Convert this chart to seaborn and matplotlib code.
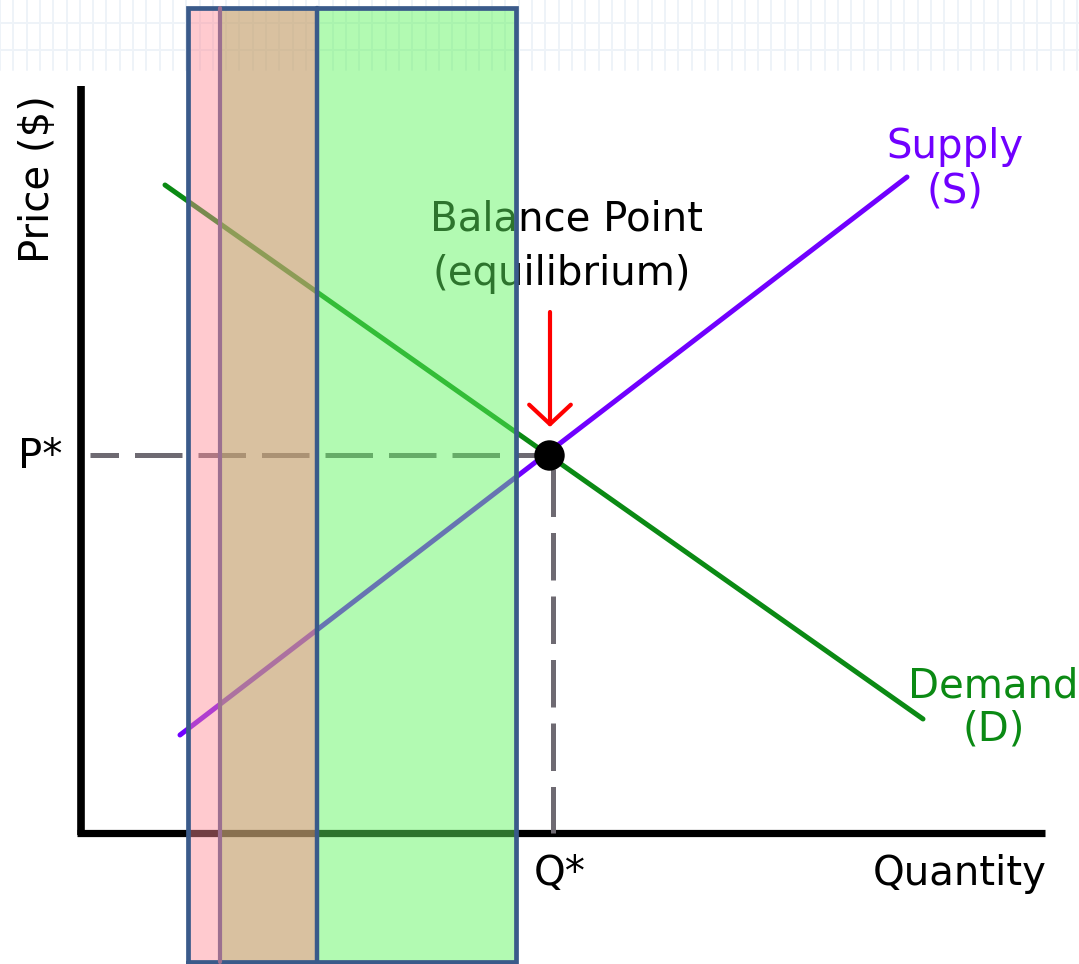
import numpy as np
import pandas as pd
import matplotlib
matplotlib.use("Agg")
import matplotlib.pyplot as plt
import seaborn as sns

# ---------------- data (quantity / price units) ----------------
demand_q = [0.84, 8.42]
demand_p = [6.48, 1.14]
supply_q = [0.99, 8.26]
supply_p = [0.98, 6.56]
eq_q = 4.68
eq_p = 3.78

# highlight bands (left edge, width)
band_left = [1.07, 1.39, 2.36]
band_width = [0.32, 0.97, 1.99]
band_bottom = -1.29
band_top = 8.25
band_colors = ["#ff8a96", "#c8a575", "#5ff55f"]
band_alpha = [0.45, 0.69, 0.48]

axis_x_end = 9.64
axis_y_end = 7.47

# ---------------- figure ----------------
sns.set_theme(style="white")
plt.rcParams['font.family'] = ['DejaVu Sans']
fig = plt.figure(figsize=(10.79, 9.64), dpi=100)
ax = fig.add_axes([0, 0, 1, 1])
ax.set_xlim(-0.81, 9.98)
ax.set_ylim(-1.31, 8.33)
ax.axis("off")

# faint grid at the top (background decoration)
for gx in np.arange(-0.81, 10.0, 0.133):
    ax.plot([gx, gx], [7.63, 8.33], color="#eef3f8", lw=1.4, zorder=0)
for gy in [8.10, 7.83]:
    ax.plot([-0.81, 9.98], [gy, gy], color="#eef3f8", lw=1.4, zorder=0)

# axes lines
ax.plot([0, 0], [-0.02, axis_y_end], color="black", lw=5.5, zorder=2, solid_capstyle="butt")
ax.plot([-0.04, axis_x_end], [0, 0], color="black", lw=5.2, zorder=2, solid_capstyle="butt")

# dashed guides
ax.plot([eq_q + 0.14, 0.09], [eq_p, eq_p], color="#6e6a72", lw=3.6,
        linestyle=(0, (9.5, 3.2)), zorder=2)
ax.plot([eq_q + 0.04, eq_q + 0.04], [eq_p - 0.14, 0.0], color="#6e6a72", lw=3.6,
        linestyle=(0, (9.5, 3.2)), zorder=2)

# demand and supply
dd = pd.DataFrame({"q": demand_q, "p": demand_p})
ss = pd.DataFrame({"q": supply_q, "p": supply_p})
sns.lineplot(data=dd, x="q", y="p", ax=ax, color="#0b8a14", lw=3.6, zorder=3,
             estimator=None, sort=False)
sns.lineplot(data=ss, x="q", y="p", ax=ax, color="#7000ff", lw=3.6, zorder=3,
             estimator=None, sort=False)
ax.set_xlim(-0.81, 9.98)
ax.set_ylim(-1.31, 8.33)
ax.axis("off")

# equilibrium point
sns.scatterplot(x=[eq_q], y=[eq_p], ax=ax, color="black", s=480, zorder=4,
                edgecolor="black", linewidth=0)

# red arrow
ax.annotate("", xy=(4.69, 4.06), xytext=(4.69, 5.21),
            arrowprops=dict(arrowstyle="->,head_length=0.7,head_width=0.75",
                            color="#ff0000", lw=3.0, shrinkA=0, shrinkB=0,
                            mutation_scale=20),
            zorder=4)

# text labels
fs = 29
ax.text(-0.43, 6.54, "Price ($)", rotation=90, ha="center", va="center",
        fontsize=fs, color="black", zorder=1)
ax.text(-0.41, 3.65, "P*", ha="center", va="baseline", fontsize=fs, color="black", zorder=1)
ax.text(4.79, -0.52, "Q*", ha="center", va="baseline", fontsize=fs, color="black", zorder=1)
ax.text(8.79, -0.52, "Quantity", ha="center", va="baseline", fontsize=fs, color="black", zorder=1)
ax.text(4.85, 6.03, "Balance Point", ha="center", va="baseline", fontsize=fs, color="black", zorder=1)
ax.text(4.81, 5.48, "(equilibrium)", ha="center", va="baseline", fontsize=fs, color="black", zorder=1)
ax.text(8.74, 6.75, "Supply", ha="center", va="baseline", fontsize=fs, color="#7000ff", zorder=1)
ax.text(8.74, 6.31, "(S)", ha="center", va="baseline", fontsize=fs, color="#7000ff", zorder=1)
ax.text(9.12, 1.36, "Demand", ha="center", va="baseline", fontsize=fs, color="#0b8a14", zorder=1)
ax.text(9.13, 0.93, "(D)", ha="center", va="baseline", fontsize=fs, color="#0b8a14", zorder=1)

# overlay bands
for l, w, c, a in zip(band_left, band_width, band_colors, band_alpha):
    ax.bar(l, band_top - band_bottom, width=w, bottom=band_bottom, align="edge",
           color=c, alpha=a, linewidth=0, zorder=5)

# band borders
x0 = band_left[0]
x1 = band_left[-1] + band_width[-1]
border = "#3a5a8a"
ax.plot([x0, x1, x1, x0, x0], [band_bottom, band_bottom, band_top, band_top, band_bottom],
        color=border, lw=3.4, zorder=6, solid_joinstyle="miter")
ax.plot([band_left[1], band_left[1]], [band_bottom, band_top], color="#9c7090", lw=3.0, zorder=6)
ax.plot([band_left[2], band_left[2]], [band_bottom, band_top], color=border, lw=3.2, zorder=6)

fig.savefig("out.png", dpi=100)
